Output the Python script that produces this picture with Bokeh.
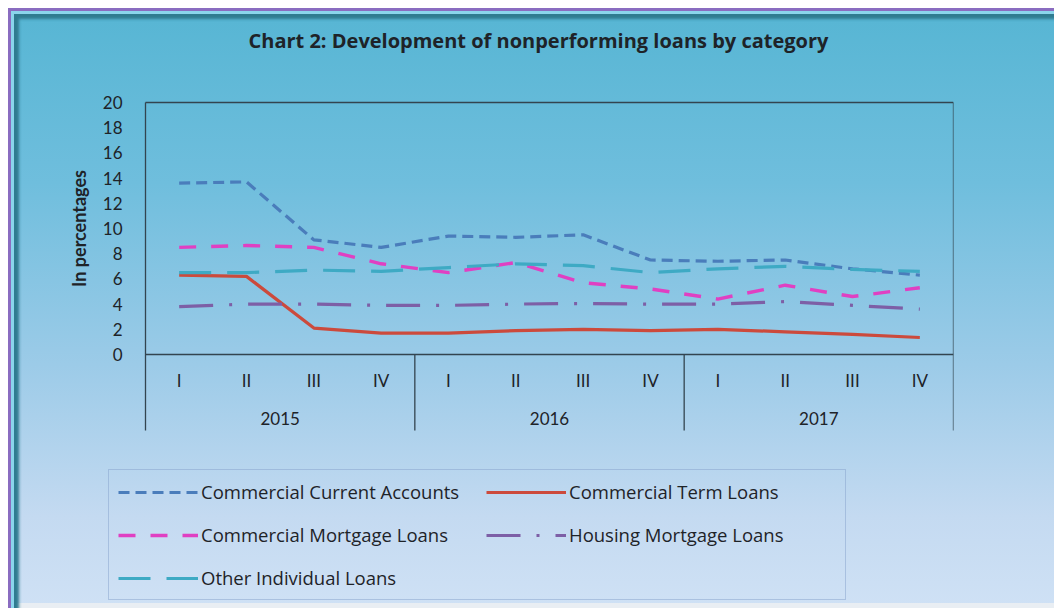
from bokeh.plotting import figure
from bokeh.models import Range1d, FixedTicker, Legend, LegendItem, Label
from bokeh.core.properties import value
from bokeh.embed import file_html
from bokeh.resources import INLINE

# ---------------- data ----------------
years = ["2015", "2016", "2017"]
quarters = ["I", "II", "III", "IV"]
commercial_current_accounts = [13.6, 13.7, 9.1, 8.5, 9.4, 9.3, 9.5, 7.5, 7.4, 7.5, 6.8, 6.3]
commercial_term_loans = [6.3, 6.2, 2.1, 1.7, 1.7, 1.9, 2.0, 1.9, 2.0, 1.8, 1.6, 1.35]
commercial_mortgage_loans = [8.5, 8.65, 8.5, 7.2, 6.5, 7.3, 5.7, 5.2, 4.4, 5.5, 4.6, 5.3]
housing_mortgage_loans = [3.8, 4.0, 4.0, 3.9, 3.9, 4.0, 4.05, 4.0, 4.0, 4.2, 3.9, 3.6]
other_individual_loans = [6.5, 6.5, 6.7, 6.6, 6.9, 7.2, 7.05, 6.5, 6.8, 7.0, 6.75, 6.6]
y_ticks = [0, 2, 4, 6, 8, 10, 12, 14, 16, 18, 20]
title_text = "Chart 2: Development of nonperforming loans by category"
y_label = "In percentages"

FONT = "Lato"
LFONT = "Open Sans"
TEXT = "#1e2328"
AXIS = "#33444f"

# ---------------- layout (pixels) ----------------
W, H = 1054, 608
FRAME_L, FRAME_R, FRAME_T, FRAME_B = 66, 953, 58, 604
PLOT_L, PLOT_T = 145, 102      # where the category axis / the 20 line are
PX_PER_Y = 12.6                # pixels per percentage point

nq = len(quarters)
n = len(years) * nq
xs = [i + 0.5 for i in range(n)]
y_top = y_ticks[-1]
px_per_x = (FRAME_R - PLOT_L) / n
x_start = -(PLOT_L - FRAME_L) / px_per_x
y_end = y_top + (PLOT_T - FRAME_T) / PX_PER_Y
y_start = y_top - (FRAME_B - PLOT_T) / PX_PER_Y
axis_bottom = -76 / PX_PER_Y   # depth of the category band below zero

p = figure(width=W, height=H, x_range=Range1d(x_start, n), y_range=Range1d(y_start, y_end),
           output_backend="svg", toolbar_location=None, x_axis_location=None,
           min_border_left=FRAME_L, min_border_right=W - FRAME_R,
           min_border_top=FRAME_T, min_border_bottom=H - FRAME_B)
p.background_fill_color = None
p.border_fill_color = None
p.outline_line_color = None
p.xgrid.visible = False
p.ygrid.visible = False
p.styles = {
    "background-image": "linear-gradient(to bottom, #55b5d3 0%, #6fbedd 30%, #9ccbe8 60%, #c4daf1 85%, #cfe1f5 100%)",
    "box-shadow": ("inset 8px 8px 0 #ffffff, inset 11px 11px 0 #8a6cc0, inset 14px 14px 0 #8ad5ec, "
                   "inset 19px 19px 3px #2f7b90, inset 0 -5px 0 #e9eef3"),
}

# title
p.title.text = title_text
p.title.align = "left"
p.title.offset = 248 - FRAME_L
p.title.text_font = "Open Sans"
p.title.text_font_size = "20px"
p.title.text_font_style = "bold"
p.title.text_color = TEXT

# y axis (labels sit just left of the plot box)
yax = p.yaxis[0]
yax.ticker = FixedTicker(ticks=y_ticks)
yax.axis_line_color = None
yax.major_tick_line_color = None
yax.minor_tick_line_color = None
yax.major_tick_out = 0
yax.major_tick_in = 0
yax.major_label_standoff = -(122 - FRAME_L)
yax.major_label_text_font = FONT
yax.major_label_text_font_size = "17px"
yax.major_label_text_color = TEXT

p.add_layout(Label(x=-(PLOT_L - 78) / px_per_x, y=y_top / 2, text=y_label, angle=1.5707963,
                   text_align="center", text_baseline="middle", text_font=FONT,
                   text_font_size="18px", text_font_style="bold", text_color=TEXT))

# plot box and category separators
p.segment(x0=[0, n], y0=[axis_bottom, axis_bottom], x1=[0, n], y1=[y_top, y_top], line_color=AXIS, line_width=1.3)
p.segment(x0=[k * nq for k in range(1, len(years))], y0=[axis_bottom] * (len(years) - 1),
          x1=[k * nq for k in range(1, len(years))], y1=[0] * (len(years) - 1), line_color=AXIS, line_width=1.3)
p.segment(x0=[0, 0], y0=[0, y_top], x1=[n, n], y1=[0, y_top], line_color=AXIS, line_width=1.3)

# category labels
p.text(x=xs, y=[-26 / PX_PER_Y] * n, text=quarters * len(years), text_align="center", text_baseline="middle",
       text_font=value(FONT), text_font_size="17px", text_color=TEXT)
p.text(x=[k * nq + nq / 2 for k in range(len(years))], y=[-64 / PX_PER_Y] * len(years), text=years,
       text_align="center", text_baseline="middle", text_font=value(FONT), text_font_size="17px", text_color=TEXT)

# series
r_cca = p.line(xs, commercial_current_accounts, line_color="#4a7dbb", line_width=3.2, line_dash="11 6")
r_ctl = p.line(xs, commercial_term_loans, line_color="#cc4a3c", line_width=3.2)
r_cml = p.line(xs, commercial_mortgage_loans, line_color="#e040c2", line_width=3.4, line_dash="17 15")
r_hml = p.line(xs, housing_mortgage_loans, line_color="#7d5fa6", line_width=3.2, line_dash="34 16 3 16")
r_oil = p.line(xs, other_individual_loans, line_color="#3eaac4", line_width=3.2, line_dash="32 16")

# legend: filled column by column, so this order gives rows
# (Current Accounts, Term Loans), (Commercial Mortgage, Housing Mortgage), (Other Individual)
legend = Legend(items=[
    LegendItem(label="Commercial Current Accounts", renderers=[r_cca]),
    LegendItem(label="Commercial Mortgage Loans", renderers=[r_cml]),
    LegendItem(label="Other Individual Loans", renderers=[r_oil]),
    LegendItem(label="Commercial Term Loans", renderers=[r_ctl]),
    LegendItem(label="Housing Mortgage Loans", renderers=[r_hml]),
], ncols=2, location=(108 - FRAME_L, FRAME_B - 600))
legend.background_fill_alpha = 0
legend.border_line_color = "#86a2cc"
legend.border_line_width = 1.3
legend.padding = 9
legend.spacing = 18
legend.glyph_width = 80
legend.glyph_height = 20
legend.label_height = 20
legend.label_width = 267
legend.label_standoff = 3
legend.label_text_font = LFONT
legend.label_text_font_size = "18.5px"
legend.label_text_color = TEXT
p.add_layout(legend)

open("out.html", "w").write(file_html(p, INLINE))
